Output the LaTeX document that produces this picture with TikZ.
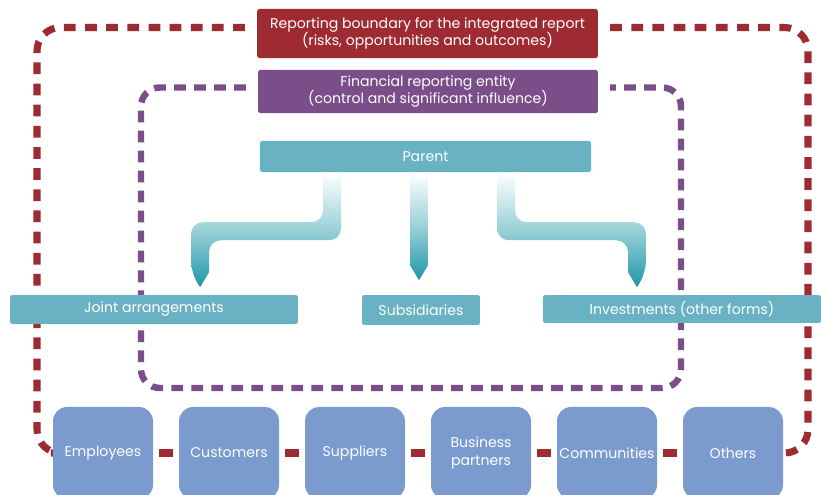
\documentclass[tikz,border=0pt]{standalone}
\usepackage{fontspec}
\setmainfont{Poppins}
\usetikzlibrary{backgrounds}
\definecolor{repred}{HTML}{9E2B32}
\definecolor{entpurple}{HTML}{7A4F89}
\definecolor{boxteal}{HTML}{69B2C3}
\definecolor{arrowteal}{HTML}{1D97A8}
\definecolor{stakeblue}{HTML}{7B9BCF}
\tikzset{every node/.style={shape=rectangle,rounded corners=2pt,text=white,align=center,inner sep=0pt,font=\fontsize{12}{15}\selectfont},
  stake/.style={fill=stakeblue,rounded corners=12pt,minimum width=85.1pt,minimum height=78.3pt},
  tealbox/.style={fill=boxteal},
  rdash/.style={draw=repred,line width=6pt,dash pattern=on 10pt off 8pt,rounded corners=20pt},
  pdash/.style={draw=entpurple,line width=5.5pt,dash pattern=on 10pt off 7pt,rounded corners=16pt},
  flow/.style={top color=white,bottom color=arrowteal,middle color=arrowteal!45}}

\begin{document}
\begin{tikzpicture}[x=0.851pt,y=-0.851pt]
\useasboundingbox (0,0) rectangle (821,495);
      \node[fill=repred,minimum width=290pt,minimum height=41.7pt] (R) at (427.5,33.5) {Reporting boundary for the integrated report\\(risks, opportunities and outcomes)};
      \node[fill=entpurple,minimum width=289.3pt,minimum height=36.6pt] (F) at (428,91.5) {Financial reporting entity\\(control and significant influence)};
      \node[tealbox,minimum width=281.7pt,minimum height=26.4pt] (P) at (425.5,156.5) {Parent};
      \node[tealbox,minimum width=245pt,minimum height=24.7pt] (J) at (154,309.5) {Joint arrangements};
      \node[tealbox,minimum width=100.4pt,minimum height=25.5pt] (S) at (421,310) {Subsidiaries};
      \node[tealbox,minimum width=236.6pt,minimum height=23.8pt] (I) at (682,309) {Investments (other forms)};
      \node[stake] (E) at (103,453) {Employees};
      \node[stake] (C) at (229,453) {Customers};
      \node[stake] (Su) at (355,453) {Suppliers};
      \node[stake] (B) at (481,453) {Business\\partners};
      \node[stake] (Co) at (607,453) {Communities};
      \node[stake] (O) at (733,453) {Others};

% boundaries, behind the boxes
\begin{pgfonlayer}{background}
\draw[rdash] ([shift={(-12,-6)}]R.west) -| (37,453) -- ([xshift=-5pt]E.west);
\draw[rdash] ([shift={(12,-6)}]R.east) -| (808,453) -- ([xshift=5pt]O.east);
\foreach \a/\b in {E/C,C/Su,Su/B,B/Co,Co/O}
  \draw[draw=repred,line width=6pt,shorten <=5pt,shorten >=5pt] (\a.east) -- (\b.west);
\draw[pdash] ([shift={(-12,-4)}]F.west) -| (141,388) -- (681,388) |- ([shift={(12,-4)}]F.east);
\end{pgfonlayer}

% flows from the parent
\shade[flow] ([shift={(-102.5,0)}]P.south) [rounded corners=10pt] -- ++(0,50) -- ++(-132,0) -- ++(0,50)
  [sharp corners] -- ++(9,15) -- ++(9,-15) [rounded corners=10pt] -- ++(0,-32) -- ++(132,0) [sharp corners] -- ++(0,-68) -- ++(-9,7) -- cycle;
\shade[flow] ([shift={(-15.5,0)}]P.south) -- ++(0,93) -- ++(9,15) -- ++(9,-15) -- ++(0,-93) -- ++(-9,7) -- cycle;
\shade[flow] ([shift={(89.5,0)}]P.south) [rounded corners=10pt] -- ++(0,50) -- ++(131,0) -- ++(0,50)
  [sharp corners] -- ++(-9,15) -- ++(-9,-15) [rounded corners=10pt] -- ++(0,-32) -- ++(-131,0) [sharp corners] -- ++(0,-68) -- ++(9,7) -- cycle;
    \end{tikzpicture}
\end{document}
